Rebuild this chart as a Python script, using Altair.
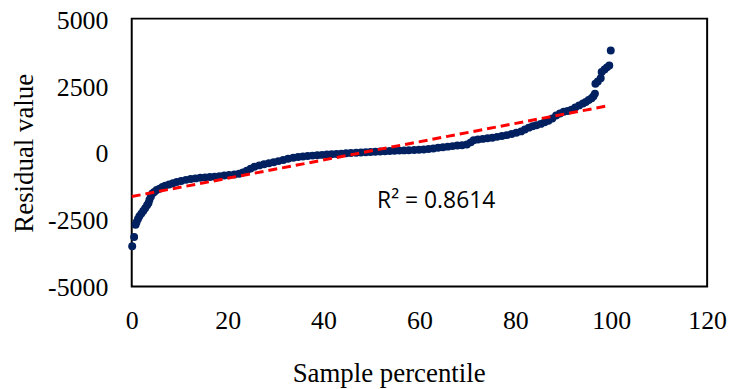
import altair as alt
import pandas as pd

percentile = [
    0.1, 0.5, 0.8, 1.0, 1.3, 1.6, 2.0, 2.4, 2.8, 3.2, 3.5, 3.7, 4.0, 4.3, 4.7,
    5.2, 5.8, 6.4, 7.0, 7.8, 8.6, 9.4, 10.3, 11.3, 12.3, 13.3, 14.3, 15.3, 16.3,
    17.3, 18.3, 19.3, 20.3, 21.4, 22.4, 23.2, 24.0, 24.8, 25.6, 26.6, 27.6, 28.6,
    29.6, 30.6, 31.6, 32.6, 33.7, 34.7, 35.7, 36.7, 37.7, 38.7, 39.7, 40.7, 41.7,
    42.7, 43.7, 44.7, 45.7, 46.8, 47.8, 48.8, 49.8, 50.8, 51.8, 52.8, 53.8, 54.8,
    55.8, 56.8, 57.8, 58.9, 59.9, 60.9, 61.9, 62.9, 63.9, 64.9, 65.9, 66.9, 67.9,
    68.9, 69.9, 70.7, 71.3, 72.2, 73.2, 74.2, 75.2, 76.2, 77.2, 78.2, 79.2, 80.2,
    81.2, 82.0, 82.8, 83.6, 84.4, 85.3, 86.1, 86.9, 87.7, 88.5, 89.3, 90.1, 90.9,
    91.7, 92.5, 93.3, 94.1, 94.7, 95.3, 95.9, 96.3, 96.6, 96.7, 97.2, 97.8, 98.0,
    98.6, 99.1, 99.6, 99.9,
]
residual = [
    -3500, -3150, -2700, -2600, -2480, -2380, -2280, -2180, -2080, -1970, -1880,
    -1760, -1640, -1530, -1470, -1400, -1350, -1290, -1240, -1190, -1150, -1100,
    -1060, -1020, -990, -965, -945, -930, -915, -900, -880, -860, -840, -820, -790,
    -740, -680, -600, -530, -480, -440, -400, -360, -320, -280, -230, -195, -170,
    -150, -130, -115, -100, -88, -76, -64, -52, -40, -30, -20, -10, 0, 10, 20, 30,
    40, 48, 56, 64, 72, 80, 88, 96, 105, 115, 130, 150, 175, 200, 220, 240, 260,
    275, 300, 380, 460, 490, 510, 530, 555, 585, 615, 650, 690, 740, 790, 860, 930,
    980, 1020, 1070, 1130, 1190, 1270, 1380, 1460, 1520, 1550, 1600, 1680, 1760,
    1830, 1890, 1960, 2030, 2100, 2200, 2570, 2650, 2770, 3010, 3100, 3180, 3250,
    3810,
]
trend_x = [0, 99.3]
trend_y = [-1643, 1745]
annotation = ["R² = 0.8614"]
x_ticks = [0, 20, 40, 60, 80, 100, 120]
y_ticks = [-5000, -2500, 0, 2500, 5000]

pts = pd.DataFrame({"percentile": percentile, "residual": residual})
trend = pd.DataFrame({"percentile": trend_x, "residual": trend_y})
note = pd.DataFrame({"label": annotation})

serif = "Liberation Serif"
x_scale = alt.Scale(domain=[0, 120], nice=False, zero=False)
y_scale = alt.Scale(domain=[-5000, 5000], nice=False, zero=False)

x_axis = alt.Axis(
    title="Sample percentile", values=x_ticks, grid=False, domain=False,
    ticks=False, tickSize=0, labelFont=serif, labelFontSize=26,
    labelColor="black", labelBaseline="alphabetic", labelPadding=42,
    labelFlush=False, labelOverlap=False,
    titleFont=serif, titleFontSize=27, titleFontWeight="normal",
    titleColor="black", titleX=258.5, titleY=96, titleBaseline="alphabetic",
    titleAlign="center",
)
y_axis = alt.Axis(
    title="Residual value", values=y_ticks, grid=False, domain=False,
    ticks=False, tickSize=0, labelFont=serif, labelFontSize=26,
    labelColor="black", labelBaseline="middle", labelPadding=24,
    labelOffset=1.5,
    labelFlush=False, labelOverlap=False, labelExpr="'' + datum.value",
    titleFont=serif, titleFontSize=27, titleFontWeight="normal",
    titleColor="black", titleX=-99.5, titleY=135, titleAngle=270,
    titleBaseline="alphabetic", titleAlign="center",
)

points = alt.Chart(pts).mark_circle(size=64, color="#002060", opacity=1).encode(
    x=alt.X("percentile:Q", scale=x_scale, axis=x_axis),
    y=alt.Y("residual:Q", scale=y_scale, axis=y_axis),
)
line = alt.Chart(trend).mark_line(
    color="#FF0000", strokeWidth=3, strokeDash=[9, 5]
).encode(
    x=alt.X("percentile:Q", scale=x_scale),
    y=alt.Y("residual:Q", scale=y_scale),
)
text = alt.Chart(note).mark_text(
    font="Open Sans", fontSize=23, color="black", align="center",
    baseline="alphabetic",
).encode(
    x=alt.datum(63.5),
    y=alt.datum(-2063),
    text="label:N",
)

chart = alt.layer(points, line, text).properties(
    width=579,
    height=269.5,
    padding={"left": 124.5, "top": 9.5, "right": 22, "bottom": 102},
    autosize=alt.AutoSizeParams(type="none"),
    background="white",
).configure_view(stroke="black", strokeWidth=2)

chart.save("out.html", embed_options={"renderer": "svg", "actions": False})
